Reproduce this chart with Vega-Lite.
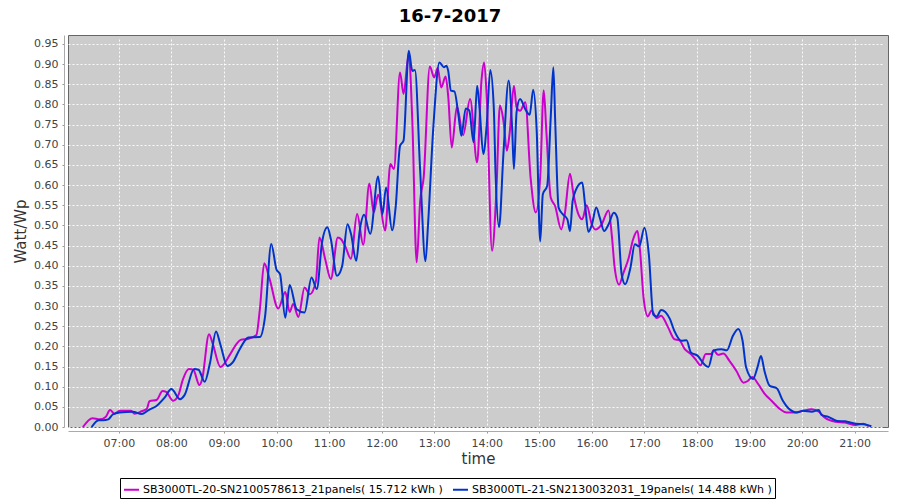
{
  "$schema": "https://vega.github.io/schema/vega-lite/v6.json",
  "width": 820,
  "height": 392,
  "autosize": {"type": "none"},
  "padding": {"left": 68, "top": 35, "right": 12, "bottom": 73},
  "background": "white",
  "title": {"text": "16-7-2017", "font": "DejaVu Sans", "fontSize": 18, "fontWeight": "bold", "color": "#000000", "offset": 9, "dx": -28},
  "config": {
    "view": {"fill": "#cccccc", "stroke": "#666666", "strokeWidth": 1},
    "axis": {"labelFont": "DejaVu Sans", "labelFontSize": 11, "labelColor": "#444444", "titleFont": "DejaVu Sans", "titleFontSize": 15, "titleFontWeight": "normal", "titleColor": "#333333", "domainColor": "#aaaaaa", "tickColor": "#999999", "tickSize": 2, "offset": 4, "gridColor": "#ffffff", "gridDash": [2, 2], "gridOpacity": 0.9, "gridWidth": 1, "labelPadding": 4}
  },
  "data": {
    "values": [
      {"s":"A","t":"2017-07-16T06:19","v":0},{"s":"A","t":"2017-07-16T06:30","v":0.022},{"s":"A","t":"2017-07-16T06:38","v":0.019},{"s":"A","t":"2017-07-16T06:45","v":0.025},{"s":"A","t":"2017-07-16T06:50","v":0.042},{"s":"A","t":"2017-07-16T06:55","v":0.033},{"s":"A","t":"2017-07-16T07:01","v":0.040},{"s":"A","t":"2017-07-16T07:14","v":0.040},{"s":"A","t":"2017-07-16T07:18","v":0.033},{"s":"A","t":"2017-07-16T07:26","v":0.039},{"s":"A","t":"2017-07-16T07:32","v":0.045},{"s":"A","t":"2017-07-16T07:35","v":0.064},{"s":"A","t":"2017-07-16T07:43","v":0.067},{"s":"A","t":"2017-07-16T07:50","v":0.089},{"s":"A","t":"2017-07-16T07:54","v":0.087},{"s":"A","t":"2017-07-16T08:02","v":0.065},{"s":"A","t":"2017-07-16T08:08","v":0.079},{"s":"A","t":"2017-07-16T08:13","v":0.117},{"s":"A","t":"2017-07-16T08:20","v":0.144},{"s":"A","t":"2017-07-16T08:25","v":0.142},{"s":"A","t":"2017-07-16T08:32","v":0.104},{"s":"A","t":"2017-07-16T08:35","v":0.117},{"s":"A","t":"2017-07-16T08:43","v":0.230},{"s":"A","t":"2017-07-16T08:47","v":0.208},{"s":"A","t":"2017-07-16T08:56","v":0.149},{"s":"A","t":"2017-07-16T09:07","v":0.180},{"s":"A","t":"2017-07-16T09:14","v":0.205},{"s":"A","t":"2017-07-16T09:19","v":0.216},{"s":"A","t":"2017-07-16T09:28","v":0.219},{"s":"A","t":"2017-07-16T09:37","v":0.228},{"s":"A","t":"2017-07-16T09:41","v":0.292},{"s":"A","t":"2017-07-16T09:46","v":0.406},{"s":"A","t":"2017-07-16T09:52","v":0.368},{"s":"A","t":"2017-07-16T10:02","v":0.294},{"s":"A","t":"2017-07-16T10:10","v":0.335},{"s":"A","t":"2017-07-16T10:15","v":0.285},{"s":"A","t":"2017-07-16T10:19","v":0.305},{"s":"A","t":"2017-07-16T10:25","v":0.273},{"s":"A","t":"2017-07-16T10:32","v":0.346},{"s":"A","t":"2017-07-16T10:38","v":0.329},{"s":"A","t":"2017-07-16T10:45","v":0.362},{"s":"A","t":"2017-07-16T10:49","v":0.470},{"s":"A","t":"2017-07-16T10:56","v":0.412},{"s":"A","t":"2017-07-16T11:02","v":0.367},{"s":"A","t":"2017-07-16T11:10","v":0.470},{"s":"A","t":"2017-07-16T11:14","v":0.465},{"s":"A","t":"2017-07-16T11:19","v":0.445},{"s":"A","t":"2017-07-16T11:25","v":0.417},{"s":"A","t":"2017-07-16T11:32","v":0.528},{"s":"A","t":"2017-07-16T11:39","v":0.452},{"s":"A","t":"2017-07-16T11:46","v":0.604},{"s":"A","t":"2017-07-16T11:51","v":0.532},{"s":"A","t":"2017-07-16T11:56","v":0.576},{"s":"A","t":"2017-07-16T12:04","v":0.487},{"s":"A","t":"2017-07-16T12:10","v":0.652},{"s":"A","t":"2017-07-16T12:14","v":0.640},{"s":"A","t":"2017-07-16T12:21","v":0.879},{"s":"A","t":"2017-07-16T12:25","v":0.826},{"s":"A","t":"2017-07-16T12:31","v":0.925},{"s":"A","t":"2017-07-16T12:35","v":0.760},{"s":"A","t":"2017-07-16T12:40","v":0.408},{"s":"A","t":"2017-07-16T12:44","v":0.561},{"s":"A","t":"2017-07-16T12:48","v":0.619},{"s":"A","t":"2017-07-16T12:55","v":0.894},{"s":"A","t":"2017-07-16T13:00","v":0.867},{"s":"A","t":"2017-07-16T13:04","v":0.890},{"s":"A","t":"2017-07-16T13:08","v":0.842},{"s":"A","t":"2017-07-16T13:13","v":0.869},{"s":"A","t":"2017-07-16T13:16","v":0.820},{"s":"A","t":"2017-07-16T13:20","v":0.693},{"s":"A","t":"2017-07-16T13:26","v":0.795},{"s":"A","t":"2017-07-16T13:33","v":0.724},{"s":"A","t":"2017-07-16T13:41","v":0.813},{"s":"A","t":"2017-07-16T13:49","v":0.656},{"s":"A","t":"2017-07-16T13:54","v":0.860},{"s":"A","t":"2017-07-16T13:57","v":0.904},{"s":"A","t":"2017-07-16T14:00","v":0.817},{"s":"A","t":"2017-07-16T14:06","v":0.437},{"s":"A","t":"2017-07-16T14:11","v":0.586},{"s":"A","t":"2017-07-16T14:15","v":0.797},{"s":"A","t":"2017-07-16T14:19","v":0.760},{"s":"A","t":"2017-07-16T14:23","v":0.685},{"s":"A","t":"2017-07-16T14:26","v":0.726},{"s":"A","t":"2017-07-16T14:31","v":0.846},{"s":"A","t":"2017-07-16T14:34","v":0.793},{"s":"A","t":"2017-07-16T14:38","v":0.784},{"s":"A","t":"2017-07-16T14:44","v":0.805},{"s":"A","t":"2017-07-16T14:50","v":0.619},{"s":"A","t":"2017-07-16T14:56","v":0.532},{"s":"A","t":"2017-07-16T15:01","v":0.620},{"s":"A","t":"2017-07-16T15:05","v":0.835},{"s":"A","t":"2017-07-16T15:08","v":0.734},{"s":"A","t":"2017-07-16T15:13","v":0.569},{"s":"A","t":"2017-07-16T15:18","v":0.548},{"s":"A","t":"2017-07-16T15:25","v":0.490},{"s":"A","t":"2017-07-16T15:29","v":0.527},{"s":"A","t":"2017-07-16T15:35","v":0.628},{"s":"A","t":"2017-07-16T15:39","v":0.577},{"s":"A","t":"2017-07-16T15:44","v":0.531},{"s":"A","t":"2017-07-16T15:49","v":0.515},{"s":"A","t":"2017-07-16T15:54","v":0.550},{"s":"A","t":"2017-07-16T16:00","v":0.502},{"s":"A","t":"2017-07-16T16:04","v":0.490},{"s":"A","t":"2017-07-16T16:11","v":0.502},{"s":"A","t":"2017-07-16T16:19","v":0.537},{"s":"A","t":"2017-07-16T16:23","v":0.469},{"s":"A","t":"2017-07-16T16:26","v":0.395},{"s":"A","t":"2017-07-16T16:31","v":0.353},{"s":"A","t":"2017-07-16T16:36","v":0.382},{"s":"A","t":"2017-07-16T16:42","v":0.419},{"s":"A","t":"2017-07-16T16:47","v":0.465},{"s":"A","t":"2017-07-16T16:52","v":0.486},{"s":"A","t":"2017-07-16T16:55","v":0.436},{"s":"A","t":"2017-07-16T16:59","v":0.320},{"s":"A","t":"2017-07-16T17:04","v":0.274},{"s":"A","t":"2017-07-16T17:08","v":0.289},{"s":"A","t":"2017-07-16T17:14","v":0.270},{"s":"A","t":"2017-07-16T17:19","v":0.276},{"s":"A","t":"2017-07-16T17:27","v":0.247},{"s":"A","t":"2017-07-16T17:34","v":0.218},{"s":"A","t":"2017-07-16T17:40","v":0.215},{"s":"A","t":"2017-07-16T17:46","v":0.193},{"s":"A","t":"2017-07-16T17:53","v":0.181},{"s":"A","t":"2017-07-16T17:59","v":0.166},{"s":"A","t":"2017-07-16T18:04","v":0.153},{"s":"A","t":"2017-07-16T18:10","v":0.181},{"s":"A","t":"2017-07-16T18:16","v":0.181},{"s":"A","t":"2017-07-16T18:19","v":0.190},{"s":"A","t":"2017-07-16T18:24","v":0.179},{"s":"A","t":"2017-07-16T18:30","v":0.182},{"s":"A","t":"2017-07-16T18:37","v":0.164},{"s":"A","t":"2017-07-16T18:45","v":0.139},{"s":"A","t":"2017-07-16T18:53","v":0.110},{"s":"A","t":"2017-07-16T18:58","v":0.114},{"s":"A","t":"2017-07-16T19:03","v":0.124},{"s":"A","t":"2017-07-16T19:10","v":0.106},{"s":"A","t":"2017-07-16T19:17","v":0.083},{"s":"A","t":"2017-07-16T19:25","v":0.065},{"s":"A","t":"2017-07-16T19:35","v":0.044},{"s":"A","t":"2017-07-16T19:42","v":0.036},{"s":"A","t":"2017-07-16T19:52","v":0.036},{"s":"A","t":"2017-07-16T20:01","v":0.040},{"s":"A","t":"2017-07-16T20:11","v":0.044},{"s":"A","t":"2017-07-16T20:19","v":0.038},{"s":"A","t":"2017-07-16T20:26","v":0.023},{"s":"A","t":"2017-07-16T20:38","v":0.013},{"s":"A","t":"2017-07-16T20:49","v":0.011},{"s":"A","t":"2017-07-16T21:01","v":0.005},{"s":"A","t":"2017-07-16T21:10","v":0.008},{"s":"A","t":"2017-07-16T21:16","v":0.002},
      {"s":"B","t":"2017-07-16T06:29","v":0},{"s":"B","t":"2017-07-16T06:37","v":0.017},{"s":"B","t":"2017-07-16T06:42","v":0.017},{"s":"B","t":"2017-07-16T06:48","v":0.019},{"s":"B","t":"2017-07-16T06:53","v":0.031},{"s":"B","t":"2017-07-16T07:01","v":0.036},{"s":"B","t":"2017-07-16T07:16","v":0.038},{"s":"B","t":"2017-07-16T07:26","v":0.032},{"s":"B","t":"2017-07-16T07:34","v":0.042},{"s":"B","t":"2017-07-16T07:43","v":0.052},{"s":"B","t":"2017-07-16T07:52","v":0.072},{"s":"B","t":"2017-07-16T08:00","v":0.094},{"s":"B","t":"2017-07-16T08:10","v":0.069},{"s":"B","t":"2017-07-16T08:15","v":0.079},{"s":"B","t":"2017-07-16T08:26","v":0.144},{"s":"B","t":"2017-07-16T08:31","v":0.142},{"s":"B","t":"2017-07-16T08:38","v":0.112},{"s":"B","t":"2017-07-16T08:44","v":0.158},{"s":"B","t":"2017-07-16T08:51","v":0.237},{"s":"B","t":"2017-07-16T08:56","v":0.204},{"s":"B","t":"2017-07-16T09:04","v":0.151},{"s":"B","t":"2017-07-16T09:10","v":0.160},{"s":"B","t":"2017-07-16T09:18","v":0.193},{"s":"B","t":"2017-07-16T09:28","v":0.222},{"s":"B","t":"2017-07-16T09:41","v":0.223},{"s":"B","t":"2017-07-16T09:47","v":0.275},{"s":"B","t":"2017-07-16T09:54","v":0.454},{"s":"B","t":"2017-07-16T10:00","v":0.390},{"s":"B","t":"2017-07-16T10:04","v":0.379},{"s":"B","t":"2017-07-16T10:10","v":0.271},{"s":"B","t":"2017-07-16T10:15","v":0.352},{"s":"B","t":"2017-07-16T10:23","v":0.292},{"s":"B","t":"2017-07-16T10:32","v":0.284},{"s":"B","t":"2017-07-16T10:40","v":0.371},{"s":"B","t":"2017-07-16T10:46","v":0.342},{"s":"B","t":"2017-07-16T10:52","v":0.458},{"s":"B","t":"2017-07-16T10:58","v":0.495},{"s":"B","t":"2017-07-16T11:02","v":0.466},{"s":"B","t":"2017-07-16T11:09","v":0.375},{"s":"B","t":"2017-07-16T11:15","v":0.400},{"s":"B","t":"2017-07-16T11:21","v":0.503},{"s":"B","t":"2017-07-16T11:25","v":0.479},{"s":"B","t":"2017-07-16T11:31","v":0.412},{"s":"B","t":"2017-07-16T11:35","v":0.487},{"s":"B","t":"2017-07-16T11:40","v":0.526},{"s":"B","t":"2017-07-16T11:47","v":0.479},{"s":"B","t":"2017-07-16T11:56","v":0.621},{"s":"B","t":"2017-07-16T12:01","v":0.528},{"s":"B","t":"2017-07-16T12:05","v":0.594},{"s":"B","t":"2017-07-16T12:12","v":0.488},{"s":"B","t":"2017-07-16T12:16","v":0.545},{"s":"B","t":"2017-07-16T12:21","v":0.697},{"s":"B","t":"2017-07-16T12:25","v":0.710},{"s":"B","t":"2017-07-16T12:31","v":0.933},{"s":"B","t":"2017-07-16T12:35","v":0.883},{"s":"B","t":"2017-07-16T12:38","v":0.885},{"s":"B","t":"2017-07-16T12:44","v":0.635},{"s":"B","t":"2017-07-16T12:50","v":0.411},{"s":"B","t":"2017-07-16T12:53","v":0.503},{"s":"B","t":"2017-07-16T12:59","v":0.743},{"s":"B","t":"2017-07-16T13:06","v":0.904},{"s":"B","t":"2017-07-16T13:11","v":0.892},{"s":"B","t":"2017-07-16T13:14","v":0.896},{"s":"B","t":"2017-07-16T13:16","v":0.883},{"s":"B","t":"2017-07-16T13:19","v":0.834},{"s":"B","t":"2017-07-16T13:23","v":0.832},{"s":"B","t":"2017-07-16T13:28","v":0.768},{"s":"B","t":"2017-07-16T13:31","v":0.722},{"s":"B","t":"2017-07-16T13:36","v":0.790},{"s":"B","t":"2017-07-16T13:40","v":0.785},{"s":"B","t":"2017-07-16T13:45","v":0.706},{"s":"B","t":"2017-07-16T13:49","v":0.846},{"s":"B","t":"2017-07-16T13:52","v":0.784},{"s":"B","t":"2017-07-16T13:56","v":0.677},{"s":"B","t":"2017-07-16T14:00","v":0.751},{"s":"B","t":"2017-07-16T14:04","v":0.885},{"s":"B","t":"2017-07-16T14:08","v":0.793},{"s":"B","t":"2017-07-16T14:10","v":0.631},{"s":"B","t":"2017-07-16T14:14","v":0.495},{"s":"B","t":"2017-07-16T14:19","v":0.677},{"s":"B","t":"2017-07-16T14:25","v":0.859},{"s":"B","t":"2017-07-16T14:29","v":0.739},{"s":"B","t":"2017-07-16T14:31","v":0.640},{"s":"B","t":"2017-07-16T14:34","v":0.780},{"s":"B","t":"2017-07-16T14:38","v":0.813},{"s":"B","t":"2017-07-16T14:44","v":0.788},{"s":"B","t":"2017-07-16T14:49","v":0.774},{"s":"B","t":"2017-07-16T14:53","v":0.836},{"s":"B","t":"2017-07-16T14:57","v":0.735},{"s":"B","t":"2017-07-16T15:01","v":0.460},{"s":"B","t":"2017-07-16T15:04","v":0.577},{"s":"B","t":"2017-07-16T15:09","v":0.598},{"s":"B","t":"2017-07-16T15:13","v":0.767},{"s":"B","t":"2017-07-16T15:16","v":0.892},{"s":"B","t":"2017-07-16T15:18","v":0.767},{"s":"B","t":"2017-07-16T15:22","v":0.544},{"s":"B","t":"2017-07-16T15:27","v":0.527},{"s":"B","t":"2017-07-16T15:32","v":0.515},{"s":"B","t":"2017-07-16T15:35","v":0.486},{"s":"B","t":"2017-07-16T15:38","v":0.560},{"s":"B","t":"2017-07-16T15:42","v":0.589},{"s":"B","t":"2017-07-16T15:49","v":0.606},{"s":"B","t":"2017-07-16T15:52","v":0.556},{"s":"B","t":"2017-07-16T15:56","v":0.484},{"s":"B","t":"2017-07-16T16:00","v":0.502},{"s":"B","t":"2017-07-16T16:05","v":0.544},{"s":"B","t":"2017-07-16T16:09","v":0.519},{"s":"B","t":"2017-07-16T16:14","v":0.486},{"s":"B","t":"2017-07-16T16:19","v":0.502},{"s":"B","t":"2017-07-16T16:25","v":0.531},{"s":"B","t":"2017-07-16T16:29","v":0.519},{"s":"B","t":"2017-07-16T16:34","v":0.378},{"s":"B","t":"2017-07-16T16:38","v":0.354},{"s":"B","t":"2017-07-16T16:44","v":0.395},{"s":"B","t":"2017-07-16T16:49","v":0.453},{"s":"B","t":"2017-07-16T16:54","v":0.448},{"s":"B","t":"2017-07-16T17:00","v":0.494},{"s":"B","t":"2017-07-16T17:05","v":0.428},{"s":"B","t":"2017-07-16T17:10","v":0.279},{"s":"B","t":"2017-07-16T17:14","v":0.274},{"s":"B","t":"2017-07-16T17:19","v":0.290},{"s":"B","t":"2017-07-16T17:29","v":0.268},{"s":"B","t":"2017-07-16T17:34","v":0.239},{"s":"B","t":"2017-07-16T17:42","v":0.214},{"s":"B","t":"2017-07-16T17:48","v":0.215},{"s":"B","t":"2017-07-16T17:53","v":0.185},{"s":"B","t":"2017-07-16T18:01","v":0.176},{"s":"B","t":"2017-07-16T18:08","v":0.156},{"s":"B","t":"2017-07-16T18:13","v":0.149},{"s":"B","t":"2017-07-16T18:19","v":0.190},{"s":"B","t":"2017-07-16T18:28","v":0.193},{"s":"B","t":"2017-07-16T18:34","v":0.190},{"s":"B","t":"2017-07-16T18:41","v":0.226},{"s":"B","t":"2017-07-16T18:47","v":0.243},{"s":"B","t":"2017-07-16T18:52","v":0.214},{"s":"B","t":"2017-07-16T18:56","v":0.148},{"s":"B","t":"2017-07-16T19:04","v":0.119},{"s":"B","t":"2017-07-16T19:09","v":0.148},{"s":"B","t":"2017-07-16T19:13","v":0.176},{"s":"B","t":"2017-07-16T19:17","v":0.139},{"s":"B","t":"2017-07-16T19:23","v":0.102},{"s":"B","t":"2017-07-16T19:31","v":0.096},{"s":"B","t":"2017-07-16T19:38","v":0.065},{"s":"B","t":"2017-07-16T19:44","v":0.047},{"s":"B","t":"2017-07-16T19:54","v":0.036},{"s":"B","t":"2017-07-16T20:01","v":0.040},{"s":"B","t":"2017-07-16T20:11","v":0.038},{"s":"B","t":"2017-07-16T20:19","v":0.042},{"s":"B","t":"2017-07-16T20:22","v":0.030},{"s":"B","t":"2017-07-16T20:30","v":0.025},{"s":"B","t":"2017-07-16T20:40","v":0.015},{"s":"B","t":"2017-07-16T20:49","v":0.014},{"s":"B","t":"2017-07-16T21:01","v":0.008},{"s":"B","t":"2017-07-16T21:10","v":0.007},{"s":"B","t":"2017-07-16T21:19","v":0.002}
    ]
  },
  "mark": {"type": "line", "strokeWidth": 2, "interpolate": "monotone"},
  "encoding": {
    "x": {
      "field": "t", "type": "temporal",
      "scale": {"domain": ["2017-07-16T06:02", "2017-07-16T21:38"]},
      "axis": {"title": "time", "format": "%H:%M", "tickCount": 16, "titlePadding": 3}
    },
    "y": {
      "field": "v", "type": "quantitative",
      "scale": {"domain": [0, 0.972], "nice": false},
      "axis": {"title": "Watt/Wp", "tickCount": 20, "format": ".2f", "titlePadding": 5}
    },
    "color": {
      "field": "s", "type": "nominal",
      "scale": {"domain": ["A", "B"], "range": ["#cc00cc", "#0033cc"]},
      "legend": {
        "title": null, "orient": "none", "legendX": 52, "legendY": 443, "direction": "horizontal",
        "symbolType": "stroke", "symbolSize": 225, "symbolStrokeWidth": 2,
        "labelFont": "DejaVu Sans", "labelFontSize": 11, "labelColor": "#000000", "labelLimit": 400, "labelOffset": 3,
        "strokeColor": "#000000", "padding": 3, "columnPadding": 6,
        "labelExpr": "datum.label == 'A' ? 'SB3000TL-20-SN2100578613_21panels( 15.712 kWh )' : 'SB3000TL-21-SN2130032031_19panels( 14.488 kWh )'"
      }
    }
  }
}
